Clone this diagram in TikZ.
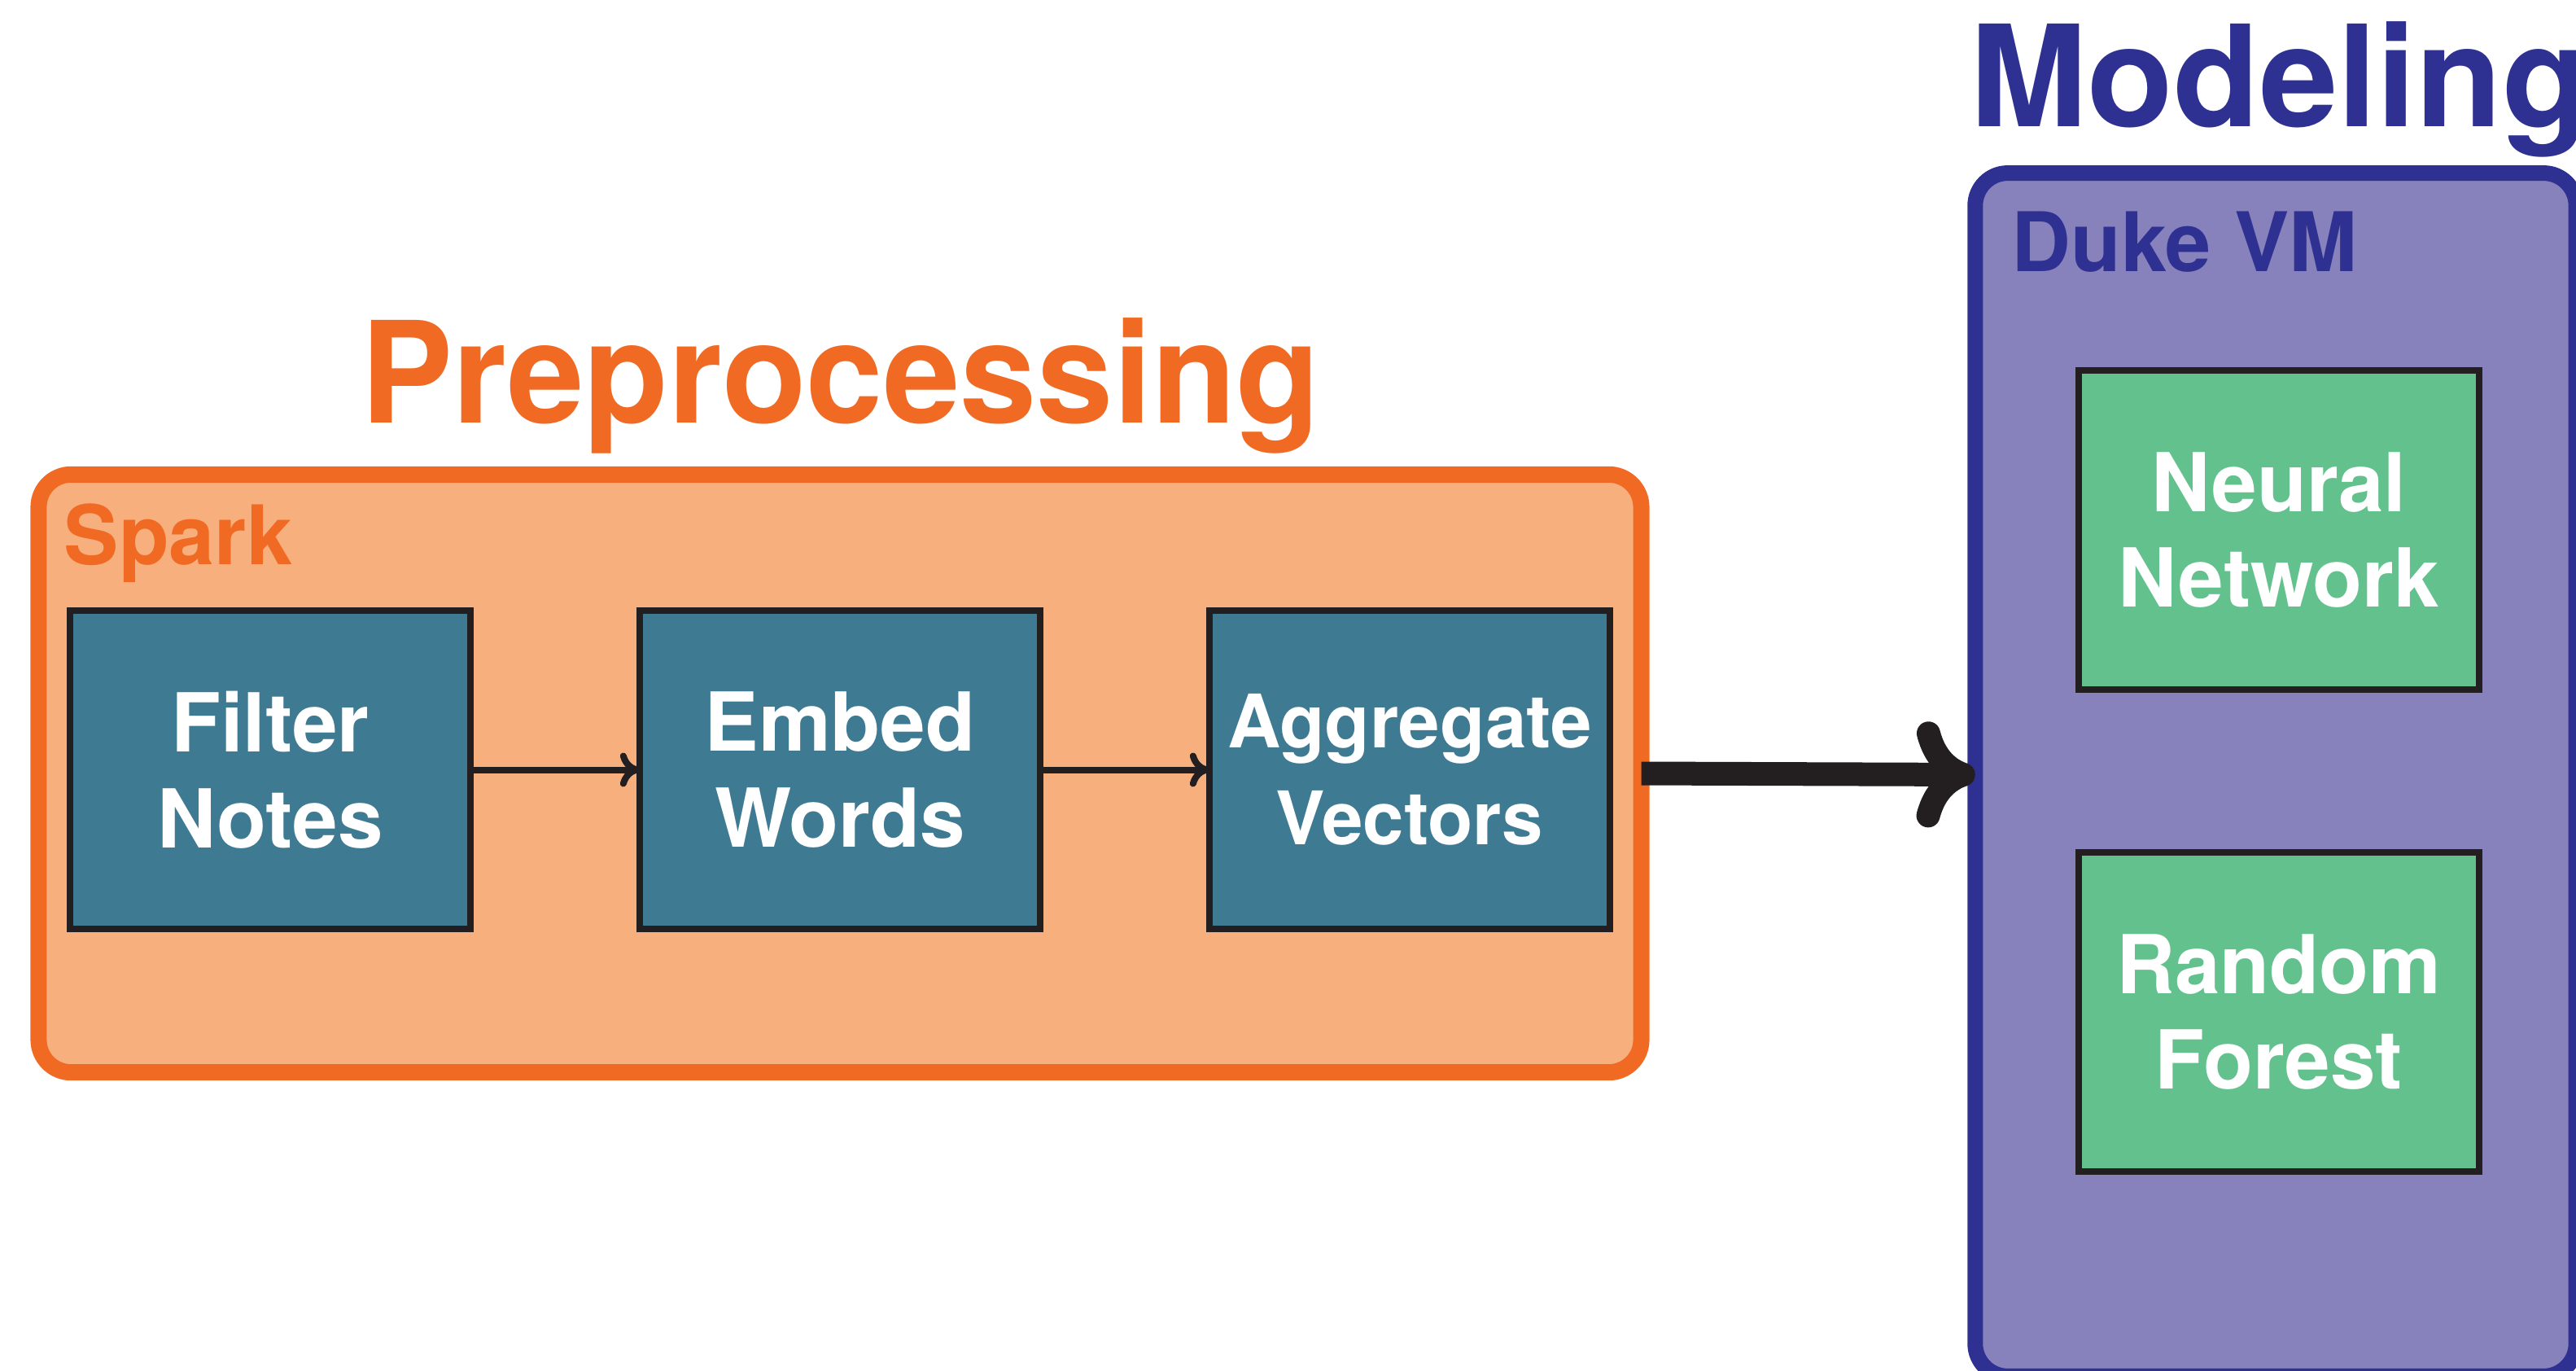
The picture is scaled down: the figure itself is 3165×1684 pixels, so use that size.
\documentclass[tikz,border=0pt]{standalone}
\usepackage{fontspec}
\setmainfont{TeX Gyre Heros}
\usetikzlibrary{arrows.meta}
\definecolor{orangeS}{HTML}{F16A23}
\definecolor{orangeF}{HTML}{F8AF7E}
\definecolor{tealF}{HTML}{3E7A92}
\definecolor{navyS}{HTML}{2E3192}
\definecolor{purpF}{HTML}{8782BC}
\definecolor{greenF}{HTML}{63C18D}
\definecolor{darkS}{HTML}{231F20}
\begin{document}
\begin{tikzpicture}[x=0.01cm,y=-0.01cm,
 group/.style={rounded corners=0.4cm, outer sep=0pt, inner sep=0pt},
 sparkgroup/.style={group, draw=orangeS, fill=orangeF, line width=0.2cm},
 vmgroup/.style={group, draw=navyS, fill=purpF, line width=0.19cm},
 stepbox/.style={draw=darkS, line width=0.08cm, outer sep=0pt, inner sep=0pt,
   minimum width=4.92cm, minimum height=3.91cm, text=white, align=center,
   font=\fontsize{28.4pt}{33.5pt}\selectfont\bfseries},
 tealbox/.style={stepbox, fill=tealF},
 greenbox/.style={stepbox, fill=greenF},
 bigtitle/.style={font=\fontsize{49.2pt}{55pt}\selectfont\bfseries, inner sep=0pt},
 grouplabel/.style={font=\fontsize{28.7pt}{34pt}\selectfont\bfseries, inner sep=0pt, anchor=base west},
 flow/.style={draw=darkS, line width=0.08cm, -{Computer Modern Rightarrow[length=0.24cm,width=0.42cm,line cap=round]}},
 bigflow/.style={draw=darkS, line width=0.29cm, -{Computer Modern Rightarrow[length=0.72cm,width=1.3cm,line cap=round]}},
]
\useasboundingbox (0,0) rectangle (3165,1684);
\clip (0,0) rectangle (3165,1684);
\fill[white] (0,0) rectangle (3165,1684);

% group containers
\node[sparkgroup, minimum width=19.68cm, minimum height=7.34cm] (spark) at (1032,950) {};
\node[vmgroup, minimum width=7.38cm, minimum height=14.77cm] (vm) at (2796,951.5) {};

% titles and labels
\node[bigtitle, text=orangeS, anchor=base] (pretitle) at (1033,519) {\addfontfeature{FakeStretch=0.98}Preprocessing};
\node[bigtitle, text=navyS, anchor=base west] (modtitle) at (2420,155) {Modeling};
\node[grouplabel, text=orangeS] (sparklabel) at (78,693) {Spark};
\node[grouplabel, text=navyS] (vmlabel) at (2471,333) {Duke VM};

% steps
\node[tealbox] (filter) at (332,945.5) {Filter\\Notes};
\node[tealbox] (embed) at (1032,945.5) {Embed\\Words};
\node[tealbox, font=\fontsize{25.8pt}{33.8pt}\selectfont\bfseries] (aggregate) at (1732,945.5) {Aggregate\\Vectors};

\node[greenbox] (nn) at (2800,651) {Neural\\Network};
\node[greenbox] (rf) at (2800,1243) {Random\\Forest};

% connectors
\draw[flow] (filter.east) -- (embed.west);
\draw[flow] (embed.east) -- (aggregate.west);
\draw[bigflow] (spark.east) -- (vm.west);
\end{tikzpicture}
\end{document}
